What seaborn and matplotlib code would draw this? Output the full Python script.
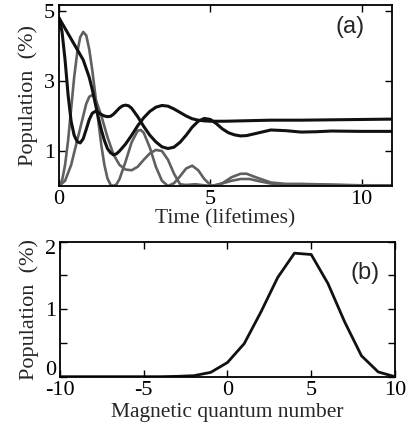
import numpy as np
import pandas as pd
import seaborn as sns
import matplotlib.pyplot as plt
import matplotlib.transforms as mtrans

sns.set_theme(style="ticks")
plt.rcParams["font.family"] = ["Liberation Serif", "DejaVu Serif"]
plt.rcParams["axes.unicode_minus"] = False

# panel (a): populations vs time (lifetimes)
t_fast = [0, 0.1, 0.2, 0.3, 0.4, 0.5, 0.6, 0.7, 0.8, 0.9, 1.0, 1.1, 1.2, 1.3, 1.4, 1.5,
          1.6, 1.7, 1.8, 1.9, 2.0, 2.1, 2.2, 2.3, 2.4, 2.6, 2.8, 3.0, 3.2, 3.4, 3.6, 3.8,
          4.0, 4.2, 4.4, 4.6, 4.8, 5.0, 5.2, 5.4, 5.6, 5.8, 6.0, 6.2, 6.5, 7.0, 7.5, 8.0,
          8.5, 9.0, 10.0, 11.0]
pop_fast = [4.8, 4.4, 3.6, 2.6, 1.85, 1.45, 1.27, 1.23, 1.35, 1.62, 1.9, 2.08, 2.13, 2.1,
            2.04, 2.0, 1.98, 1.99, 2.05, 2.14, 2.23, 2.29, 2.31, 2.29, 2.22, 1.98, 1.7, 1.45,
            1.26, 1.12, 1.07, 1.11, 1.25, 1.45, 1.68, 1.85, 1.93, 1.9, 1.78, 1.63, 1.52, 1.46,
            1.43, 1.44, 1.5, 1.6, 1.58, 1.54, 1.55, 1.57, 1.56, 1.56]

t_slow = [0, 0.2, 0.4, 0.6, 0.8, 1.0, 1.1, 1.2, 1.3, 1.4, 1.5, 1.6, 1.7, 1.8, 1.9, 2.0,
          2.2, 2.4, 2.6, 2.8, 3.0, 3.2, 3.4, 3.6, 3.8, 4.0, 4.2, 4.4, 4.6, 4.8, 5.0, 5.5,
          6.0, 7.0, 8.0, 9.0, 10.0, 11.0]
pop_slow = [4.8, 4.5, 4.2, 3.9, 3.6, 3.1, 2.75, 2.35, 1.95, 1.6, 1.3, 1.07, 0.95, 0.89,
            0.92, 1.0, 1.2, 1.45, 1.72, 1.95, 2.13, 2.25, 2.3, 2.28, 2.2, 2.1, 2.0, 1.92,
            1.88, 1.86, 1.85, 1.85, 1.86, 1.88, 1.88, 1.89, 1.9, 1.91]

t_g1 = [0, 0.1, 0.2, 0.3, 0.4, 0.5, 0.6, 0.7, 0.8, 0.9, 1.0, 1.1, 1.2, 1.3, 1.4, 1.5,
        1.6, 1.7, 1.8, 1.9, 2.0, 2.2, 2.4, 2.6, 2.7, 2.8, 3.0, 3.2, 3.4, 3.6, 3.8, 4.0,
        4.2, 4.4, 4.6, 4.8, 5.0, 5.1, 5.4, 5.7, 6.0, 6.2, 6.5, 7.0, 7.5, 8.0, 9.0, 10.0, 11.0]
pop_g1 = [0, 0.15, 0.6, 1.3, 2.2, 3.1, 3.8, 4.25, 4.4, 4.3, 3.9, 3.3, 2.6, 1.85, 1.15, 0.6,
          0.22, 0.04, 0.0, 0.05, 0.2, 0.7, 1.25, 1.58, 1.6, 1.52, 1.1, 0.55, 0.15, 0.0, 0.08,
          0.28, 0.5, 0.58, 0.45, 0.2, 0.03, 0.0, 0.08, 0.25, 0.35, 0.35, 0.25, 0.1, 0.06,
          0.06, 0.04, 0.02, 0.02]

t_g2 = [0, 0.2, 0.4, 0.6, 0.8, 0.9, 1.0, 1.1, 1.2, 1.4, 1.6, 1.8, 2.0, 2.2, 2.4, 2.6,
        2.8, 3.0, 3.2, 3.4, 3.6, 3.8, 4.0, 4.2, 4.5, 4.8, 5.0, 5.3, 5.7, 6.0, 6.3, 6.6,
        7.0, 7.5, 8.0, 9.0, 10.0, 11.0]
pop_g2 = [0, 0.15, 0.6, 1.3, 2.0, 2.35, 2.55, 2.6, 2.5, 2.0, 1.4, 0.9, 0.6, 0.47, 0.45,
          0.55, 0.75, 0.93, 1.03, 1.0, 0.75, 0.35, 0.05, 0.03, 0.05, 0.02, 0.0, 0.05, 0.15,
          0.2, 0.2, 0.14, 0.07, 0.04, 0.05, 0.03, 0.01, 0.01]

# panel (b): final distribution over magnetic quantum number
m_vals = list(range(-10, 11))
pop_m = [0, 0, 0, 0, 0, 0, 0, 0.005, 0.015, 0.064, 0.21, 0.49, 0.96, 1.47, 1.83,
         1.81, 1.38, 0.81, 0.31, 0.07, 0.0]

fig = plt.figure(figsize=(4.07, 4.28), dpi=100)
ax1 = fig.add_axes([0.145, 0.5654, 0.818, 0.423])
ax2 = fig.add_axes([0.1474, 0.1199, 0.823, 0.3154])

gray = "#606060"
black = "#111111"
for tt, pp in [(t_g1, pop_g1), (t_g2, pop_g2)]:
    sns.lineplot(x=tt, y=pp, ax=ax1, color=gray, lw=1.9, estimator=None)
for tt, pp in [(t_fast, pop_fast), (t_slow, pop_slow)]:
    sns.lineplot(x=tt, y=pp, ax=ax1, color=black, lw=2.2, estimator=None)

df_m = pd.DataFrame({"m": m_vals, "pop": pop_m})
sns.lineplot(data=df_m, x="m", y="pop", ax=ax2, color=black, lw=2.0, estimator=None)

for ax in (ax1, ax2):
    for sp in ax.spines.values():
        sp.set_visible(True)
        sp.set_linewidth(1.3)
        sp.set_color("black")
    ax.tick_params(direction="in", length=5, width=1, top=True, right=True,
                   labelsize=16, pad=3, colors="black")
    ax.set_facecolor("white")

ax1.set_xlim(0, 11)
ax1.set_ylim(0, 5.17)
ax1.set_xticks([0, 5, 10])
ax1.set_yticks([1, 3, 5])
ax1.set_xlabel("Time (lifetimes)", fontsize=15.5, labelpad=0)
ax1.set_ylabel("Population  (%)", fontsize=16, labelpad=4)
ax1.text(9.6, 4.54, "(a)", fontsize=17, family="Liberation Sans",
         ha="center", va="center")

ax2.set_xlim(-10, 10)
ax2.set_ylim(0, 2)
ax2.set_xticks([-10, -5, 0, 5, 10])
ax2.set_yticks([0, 0.5, 1, 1.5, 2])
ax2.set_yticklabels(["0", "", "1", "", "2"])
# nudge end labels inward like the original
ylabs = ax2.get_yticklabels()
ylabs[0].set_transform(ylabs[0].get_transform() + mtrans.ScaledTranslation(0, 6 / 72, fig.dpi_scale_trans))
ylabs[4].set_transform(ylabs[4].get_transform() + mtrans.ScaledTranslation(0, -4 / 72, fig.dpi_scale_trans))
ax2.set_xlabel("Magnetic quantum number", fontsize=15.5, labelpad=2)
ax2.set_ylabel("Population  (%)", fontsize=16, labelpad=4)
ax2.text(8.2, 1.54, "(b)", fontsize=17, family="Liberation Sans",
         ha="center", va="center")

fig.savefig("out.png", dpi=100, facecolor="white")
